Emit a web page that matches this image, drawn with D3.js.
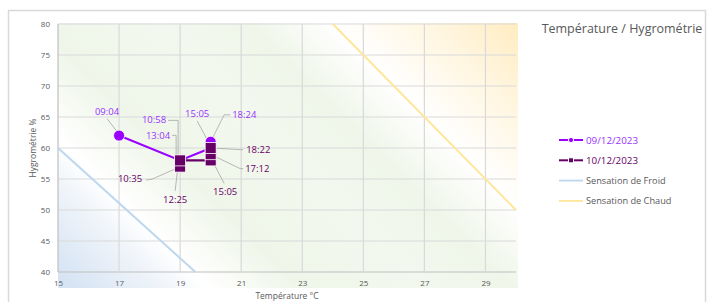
<!DOCTYPE html>
<html>
<head>
<meta charset="utf-8">
<script src="https://cdn.jsdelivr.net/npm/d3@7"></script>
<style>
  body { margin: 0; background: #fff; }
  text { font-family: "Open Sans", sans-serif; }
</style>
</head>
<body>
<div id="chart"></div>
<script>
// series 09/12/2023 : [heure, temperature, hygrometrie]
const serie1 = [
  ["09:04", 17, 62],
  ["10:58", 19, 58],
  ["13:04", 19, 58],
  ["15:05", 20, 60],
  ["18:24", 20, 61]
];
// series 10/12/2023
const serie2 = [
  ["10:35", 19, 57],
  ["12:25", 19, 58],
  ["15:05", 20, 58],
  ["17:12", 20, 59],
  ["18:22", 20, 60]
];
const froid = [[15, 60], [19.5, 40]];
const chaud = [[24, 80], [30, 50]];
const xTicks = [15, 17, 19, 21, 23, 25, 27, 29];
const yTicks = [40, 45, 50, 55, 60, 65, 70, 75, 80];
const legendLabels = ["09/12/2023", "10/12/2023", "Sensation de Froid", "Sensation de Chaud"];

// label placement (text offset + leader path, relative to the point)
const labelLayout1 = [
  {dx: -12, dy: -21, anchor: "middle", leader: [[-12, -17], [-2, -4]]},
  {dx: -14, dy: -37, anchor: "end", leader: [[-12, -40], [-2, -40], [-2, -3]]},
  {dx: -10, dy: -21, anchor: "end", leader: [[-8, -25], [-4, -25], [-4, -2]]},
  {dx: -13.5, dy: -31, anchor: "middle", leader: [[-13.5, -27], [0, -2]]},
  {dx: 21.5, dy: -23.5, anchor: "start", leader: [[19.5, -27], [13.5, -27], [1.5, -3]]}
];
const labelLayout2 = [
  {dx: -38, dy: 15.5, anchor: "end", leader: [[-34, 13.5], [-28, 12.5], [-3, 1.5]]},
  {dx: -5, dy: 42.5, anchor: "middle", leader: [[-5, 30.5], [-2, 4.5]]},
  {dx: 14.5, dy: 35, anchor: "middle", leader: [[13.5, 23], [2.5, 2]]},
  {dx: 34.5, dy: 17.5, anchor: "start", leader: [[32.5, 14.4], [29.5, 14.4], [2.5, 1.4]]},
  {dx: 35.5, dy: 4.5, anchor: "start", leader: [[32.5, 1.6], [29.5, 1.6], [1.5, 0]]}
];

const violet = "#9900ff";
const prune = "#660066";
const bleu = "#bdd7ee";
const jaune = "#ffe699";
const gris = "#595959";

const W = 715, H = 302;
const plot = {left: 58, right: 516, top: 24, bottom: 272};

const svg = d3.select("#chart").append("svg")
  .attr("width", W).attr("height", H);

// chart border
svg.append("rect")
  .attr("x", 8.5).attr("y", 10.5).attr("width", 697).attr("height", 300)
  .attr("fill", "#fff").attr("stroke", "#d9d9d9").attr("stroke-width", 1.5);

const xScale = d3.scaleLinear().domain([15, 30]).range([plot.left, plot.right]);
const yScale = d3.scaleLinear().domain([40, 80]).range([plot.bottom, plot.top]);

// background gradient of the plot area
const defs = svg.append("defs");
const grad = defs.append("linearGradient")
  .attr("id", "bg").attr("gradientUnits", "userSpaceOnUse")
  .attr("x1", plot.left).attr("y1", plot.bottom)
  .attr("x2", plot.left + 353).attr("y2", plot.bottom - 353);
[[0, "#d6e4f4"], [0.12, "#eef3f9"], [0.19, "#ffffff"], [0.32, "#eff6e9"],
 [0.5, "#f3f8ee"], [0.62, "#eff6e9"], [0.74, "#ffffff"], [0.88, "#fff6e0"], [1, "#ffecc2"]]
  .forEach(s => grad.append("stop").attr("offset", s[0]).attr("stop-color", s[1]));

svg.append("rect")
  .attr("x", plot.left).attr("y", plot.top - 1)
  .attr("width", plot.right - plot.left + 2).attr("height", 288 - plot.top + 1)
  .attr("fill", "url(#bg)");

// grid
svg.append("g").selectAll("line").data(yTicks).join("line")
  .attr("x1", plot.left).attr("x2", plot.right)
  .attr("y1", d => yScale(d)).attr("y2", d => yScale(d))
  .attr("stroke", d => d === 40 ? "#bfbfbf" : "#d9d9d9").attr("stroke-width", 1.2);
svg.append("g").selectAll("line").data(xTicks).join("line")
  .attr("x1", d => xScale(d)).attr("x2", d => xScale(d))
  .attr("y1", plot.top).attr("y2", plot.bottom)
  .attr("stroke", d => d === 15 ? "#bfbfbf" : "#d9d9d9").attr("stroke-width", 1.2);

// axes (labels only)
const yAxis = svg.append("g")
  .attr("transform", `translate(${plot.left},0)`)
  .call(d3.axisLeft(yScale).tickValues(yTicks).tickSize(0).tickPadding(8));
const xAxis = svg.append("g")
  .attr("transform", `translate(0,${plot.bottom})`)
  .call(d3.axisBottom(xScale).tickValues(xTicks).tickSize(0).tickPadding(8));
[yAxis, xAxis].forEach(a => {
  a.select(".domain").remove();
  a.selectAll("text").attr("fill", gris).style("font-size", "8px")
    .style("font-family", "'Open Sans', sans-serif");
});

svg.append("text")
  .attr("transform", `translate(36,${(plot.top + plot.bottom) / 2}) rotate(-90)`)
  .attr("text-anchor", "middle").attr("fill", gris).style("font-size", "8.5px")
  .text("Hygrométrie %");
svg.append("text")
  .attr("x", (plot.left + plot.right) / 2).attr("y", 299)
  .attr("text-anchor", "middle").attr("fill", gris).style("font-size", "8.5px")
  .text("Température °C");

// title
svg.append("text")
  .attr("x", 622).attr("y", 33).attr("text-anchor", "middle")
  .attr("fill", gris).style("font-size", "12.5px")
  .text("Température / Hygrométrie");

const line = d3.line().x(d => xScale(d[0])).y(d => yScale(d[1]));

// comfort limits
svg.append("path").datum(froid).attr("d", line)
  .attr("fill", "none").attr("stroke", bleu).attr("stroke-width", 2);
svg.append("path").datum(chaud).attr("d", line)
  .attr("fill", "none").attr("stroke", jaune).attr("stroke-width", 2);

const serieLine = d3.line().x(d => xScale(d[1])).y(d => yScale(d[2]));
const leaderLine = d3.line();

function drawLabels(data, layout, color) {
  const g = svg.append("g");
  data.forEach((d, i) => {
    const px = xScale(d[1]), py = yScale(d[2]);
    const l = layout[i];
    g.append("path")
      .attr("d", leaderLine(l.leader.map(p => [px + p[0], py + p[1]])))
      .attr("fill", "none").attr("stroke", "#a6a6a6").attr("stroke-width", 0.8);
    g.append("text")
      .attr("x", px + l.dx).attr("y", py + l.dy)
      .attr("text-anchor", l.anchor).attr("fill", color)
      .style("font-size", "9.5px")
      .text(d[0]);
  });
}

drawLabels(serie1, labelLayout1, "#9933ff");
drawLabels(serie2, labelLayout2, prune);

// series 1 : circles
svg.append("path").datum(serie1).attr("d", serieLine)
  .attr("fill", "none").attr("stroke", violet).attr("stroke-width", 2.2);
svg.append("g").selectAll("circle").data(serie1).join("circle")
  .attr("cx", d => xScale(d[1])).attr("cy", d => yScale(d[2]))
  .attr("r", 5.5).attr("fill", violet).attr("stroke", "#fff").attr("stroke-width", 0.8);

// series 2 : squares
svg.append("path").datum(serie2).attr("d", serieLine)
  .attr("fill", "none").attr("stroke", prune).attr("stroke-width", 2.2);
svg.append("g").selectAll("rect").data(serie2).join("rect")
  .attr("x", d => xScale(d[1]) - 5.5).attr("y", d => yScale(d[2]) - 5.5)
  .attr("width", 11).attr("height", 11)
  .attr("fill", prune).attr("stroke", "#fff").attr("stroke-width", 0.8);

// legend
const legend = svg.append("g").attr("transform", "translate(559,140)");
const legendColors = [violet, prune, bleu, jaune];
const legendText = ["#9933ff", prune, gris, gris];
legendLabels.forEach((lab, i) => {
  const row = legend.append("g").attr("transform", `translate(0,${i * 20.3})`);
  row.append("line").attr("x1", 0).attr("x2", 24).attr("y1", 0).attr("y2", 0)
    .attr("stroke", legendColors[i]).attr("stroke-width", i < 2 ? 2 : 1.8);
  if (i === 0) {
    row.append("circle").attr("cx", 12).attr("cy", 0).attr("r", 2.6)
      .attr("fill", violet).attr("stroke", "#fff").attr("stroke-width", 1);
  } else if (i === 1) {
    row.append("rect").attr("x", 9.5).attr("y", -2.5).attr("width", 5).attr("height", 5)
      .attr("fill", prune).attr("stroke", "#fff").attr("stroke-width", 1);
  }
  row.append("text").attr("x", 27).attr("y", 3.5)
    .attr("fill", legendText[i]).style("font-size", i < 2 ? "9.8px" : "9.2px")
    .text(lab);
});
</script>
</body>
</html>
